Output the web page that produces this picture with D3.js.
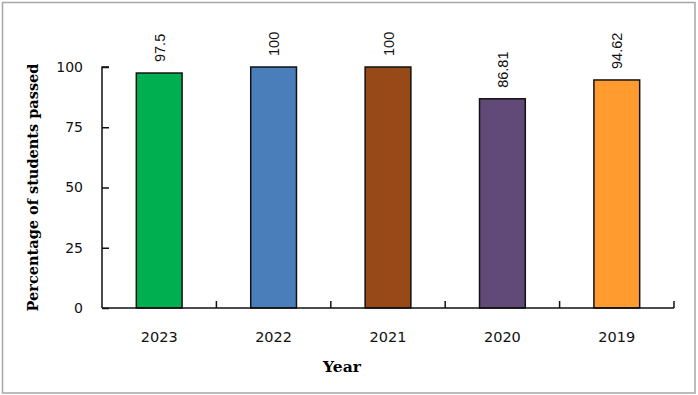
<!DOCTYPE html>
<html>
<head>
    <title>Students passed</title>
    <script src="https://d3js.org/d3.v7.min.js"></script>
    <style>
        body { margin: 0; background: #fff; }
    </style>
</head>
<body>
    <script>
        // chart data
        const years = ["2023", "2022", "2021", "2020", "2019"];
        const passed = [97.5, 100, 100, 86.81, 94.62];
        const barColors = ["#00b050", "#4a7ebb", "#974a18", "#624a78", "#ff9b2f"];
        const yTicks = [0, 25, 50, 75, 100];

        const W = 698, H = 395;
        const margin = {top: 67, right: 24, bottom: 87, left: 102};

        const svg = d3.select("body").append("svg")
            .attr("width", W)
            .attr("height", H);

        // outer frame
        svg.append("rect")
            .attr("x", 2.5).attr("y", 2.5)
            .attr("width", W - 5.5).attr("height", H - 4.5)
            .attr("fill", "none")
            .attr("stroke", "#a6a6a6")
            .attr("stroke-width", 1.5);

        const x = d3.scaleBand()
            .domain(years)
            .range([margin.left, W - margin.right])
            .paddingInner(0.6)
            .paddingOuter(0.3);

        const y = d3.scaleLinear()
            .domain([0, 100])
            .range([H - margin.bottom, margin.top]);

        // bars
        svg.selectAll("rect.bar")
            .data(years)
            .enter().append("rect")
            .attr("class", "bar")
            .attr("x", d => x(d))
            .attr("width", x.bandwidth())
            .attr("y", (d, i) => y(passed[i]))
            .attr("height", (d, i) => y(0) - y(passed[i]))
            .attr("fill", (d, i) => barColors[i])
            .attr("stroke", "#111")
            .attr("stroke-width", 1.5);

        // value labels, rotated
        svg.selectAll("text.val")
            .data(years)
            .enter().append("text")
            .attr("class", "val")
            .attr("transform", (d, i) =>
                "translate(" + (x(d) + x.bandwidth() / 2 + 5.5) + "," + (y(passed[i]) - 11) + ") rotate(-90)")
            .attr("font-family", "Liberation Sans, Arial, sans-serif")
            .attr("font-size", "14.5px")
            .attr("fill", "#111")
            .text((d, i) => passed[i]);

        // y axis, ticks pointing inward
        const yAxis = svg.append("g")
            .attr("transform", "translate(" + margin.left + ",0)")
            .call(d3.axisRight(y).tickValues(yTicks).tickSize(7).tickFormat(d3.format("d")));
        yAxis.select(".domain").attr("stroke", "#111").attr("stroke-width", 1.5)
            .attr("d", "M" + 7 + "," + y(100) + "H0V" + y(0));
        yAxis.selectAll(".tick line").attr("stroke", "#111").attr("stroke-width", 1.5);
        yAxis.selectAll(".tick text")
            .attr("x", -19)
            .attr("text-anchor", "end")
            .attr("font-family", "DejaVu Sans, Verdana, sans-serif")
            .attr("font-size", "14px")
            .attr("fill", "#111");

        // x axis, ticks at category boundaries
        const xBase = y(0);
        const xAxis = svg.append("g");
        xAxis.append("line")
            .attr("x1", margin.left).attr("x2", W - margin.right)
            .attr("y1", xBase).attr("y2", xBase)
            .attr("stroke", "#111").attr("stroke-width", 1.5);
        const bounds = years.map(d => x(d) + x.bandwidth() / 2 + x.step() / 2);
        xAxis.selectAll("line.tk")
            .data(bounds)
            .enter().append("line")
            .attr("class", "tk")
            .attr("x1", d => d).attr("x2", d => d)
            .attr("y1", xBase).attr("y2", xBase - 7)
            .attr("stroke", "#111").attr("stroke-width", 1.5);
        xAxis.selectAll("text")
            .data(years)
            .enter().append("text")
            .attr("x", d => x(d) + x.bandwidth() / 2)
            .attr("y", xBase + 34)
            .attr("text-anchor", "middle")
            .attr("font-family", "DejaVu Sans, Verdana, sans-serif")
            .attr("font-size", "14.5px")
            .attr("fill", "#111")
            .text(d => d);

        // axis titles
        svg.append("text")
            .attr("transform", "translate(38," + ((y(0) + y(100)) / 2) + ") rotate(-90)")
            .attr("text-anchor", "middle")
            .attr("font-family", "DejaVu Serif, Liberation Serif, serif")
            .attr("font-weight", "bold")
            .attr("font-size", "14.5px")
            .attr("fill", "#000")
            .text("Percentage of students passed");

        svg.append("text")
            .attr("x", 342)
            .attr("y", 372)
            .attr("text-anchor", "middle")
            .attr("font-family", "DejaVu Serif, Liberation Serif, serif")
            .attr("font-weight", "bold")
            .attr("font-size", "15.5px")
            .attr("fill", "#000")
            .text("Year");
    </script>
</body>
</html>
